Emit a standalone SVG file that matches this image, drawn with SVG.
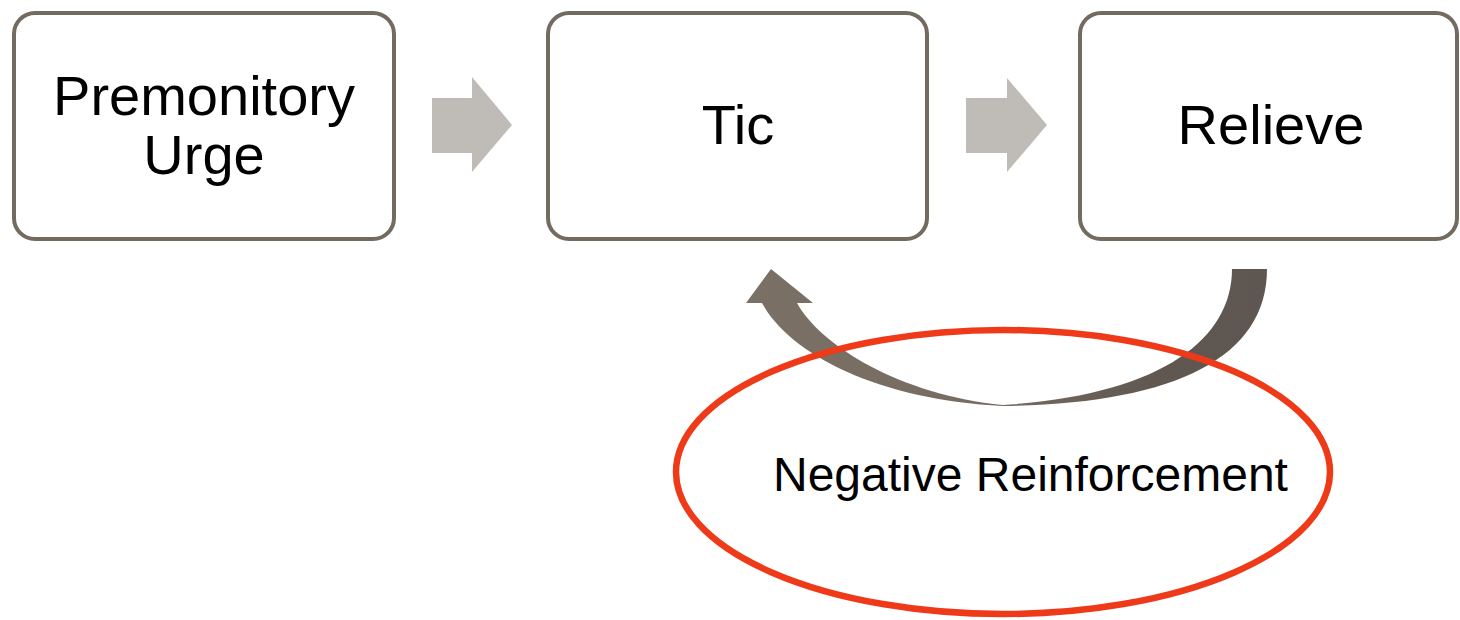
<svg xmlns="http://www.w3.org/2000/svg" width="1460" height="620" viewBox="0 0 1460 620">
<style>
.box{fill:#ffffff;stroke:#736a60;stroke-width:4}
.lbl{font-family:"Liberation Sans",Arial,sans-serif;font-size:56px;fill:#000;text-anchor:middle}
.nr{font-family:"Liberation Sans",Arial,sans-serif;font-size:48px;fill:#000}
.blk{fill:#bfbbb7}
</style>
<defs>
<linearGradient id="cg" x1="746" y1="0" x2="1267" y2="0" gradientUnits="userSpaceOnUse">
<stop offset="0" stop-color="#7a7065"/>
<stop offset="0.45" stop-color="#766c62"/>
<stop offset="0.8" stop-color="#5f5750"/>
<stop offset="1" stop-color="#5e5650"/>
</linearGradient>
</defs>
<rect width="1460" height="620" fill="#ffffff"/>
<g id="node-urge">
<rect class="box" x="14" y="13" width="380" height="226" rx="21"/>
<text class="lbl" x="204" y="115">Premonitory</text>
<text class="lbl" x="204" y="174">Urge</text>
</g>
<g id="node-tic">
<rect class="box" x="548" y="13" width="379" height="226" rx="21"/>
<text class="lbl" x="738" y="144">Tic</text>
</g>
<g id="node-relieve">
<rect class="box" x="1080" y="13" width="377" height="226" rx="21"/>
<text class="lbl" x="1271" y="144">Relieve</text>
</g>
<g id="connectors">
<polygon class="blk" points="432,98 472,98 472,77 512,125 472,172 472,153 432,153"/>
<polygon class="blk" points="966,98 1007,98 1007,78 1047,125 1007,172 1007,153 966,153"/>
<path fill="url(#cg)" d="M 1267 269 L 1232 269 C 1232 340 1160 395 1003 405 C 900 395 820 345 797 303 L 813 303 L 771 269 L 746 303 L 762 303 C 790 355 880 400 1003 406 C 1170 404 1267 360 1267 269 Z"/>
</g>
<g id="node-negative-reinforcement">
<ellipse cx="1003" cy="472" rx="327" ry="142" fill="none" stroke="#ee3a18" stroke-width="6.5"/>
<text class="nr" x="773" y="491">Negative Reinforcement</text>
</g>
</svg>
